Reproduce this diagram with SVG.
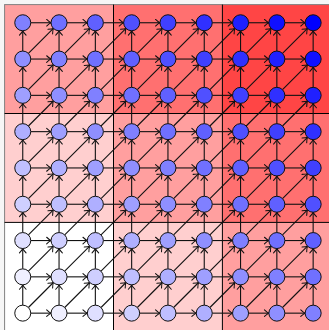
<svg xmlns="http://www.w3.org/2000/svg" width="329" height="330" viewBox="0 0 329 330">
<defs>
<marker id="a" markerUnits="userSpaceOnUse" markerWidth="10" markerHeight="10" refX="0" refY="0" orient="auto" overflow="visible">
<path d="M-4.4,-3.3 Q-1.6,-0.6 0,0 Q-1.6,0.6 -4.4,3.3" fill="none" stroke="#111" stroke-width="1.05" stroke-linecap="round"/>
</marker>
</defs>
<style>
.b0{fill:#ffffff}.b1{fill:#ffcfcf}.b2{fill:#ff9f9f}.b3{fill:#ff7070}.b4{fill:#ff4545}
.sep{stroke:#000;stroke-width:1;fill:none}
.frame{stroke:#808080;stroke-width:1;fill:none}
#connectors path{fill:none;stroke:#111;stroke-width:1.1;marker-end:url(#a)}
circle{stroke:#111;stroke-width:1}
.k0{fill:#ffffff}.k1{fill:#efefff}.k2{fill:#dfdfff}.k3{fill:#cfcfff}.k4{fill:#bfbfff}.k5{fill:#afafff}.k6{fill:#9f9fff}.k7{fill:#8f8fff}.k8{fill:#8080ff}.k9{fill:#7070ff}.k10{fill:#6060ff}.k11{fill:#5050ff}.k12{fill:#4040ff}.k13{fill:#3030ff}.k14{fill:#2020ff}.k15{fill:#1010ff}.k16{fill:#0000ff}
</style>
<rect x="0" y="0" width="329" height="330" fill="#f6f6f6"/>
<g id="blocks">
<rect class="b2" x="4.6" y="4.6" width="108.9" height="108.9"/>
<rect class="b3" x="113.5" y="4.6" width="108.9" height="108.9"/>
<rect class="b4" x="222.4" y="4.6" width="108.9" height="108.9"/>
<rect class="b1" x="4.6" y="113.5" width="108.9" height="108.9"/>
<rect class="b2" x="113.5" y="113.5" width="108.9" height="108.9"/>
<rect class="b3" x="222.4" y="113.5" width="108.9" height="108.9"/>
<rect class="b0" x="4.6" y="222.4" width="108.9" height="108.9"/>
<rect class="b1" x="113.5" y="222.4" width="108.9" height="108.9"/>
<rect class="b2" x="222.4" y="222.4" width="108.9" height="108.9"/>
<rect class="frame" x="4.6" y="4.6" width="326.7" height="326.7"/>
<path class="sep" d="M113.5,4.6V331.3M222.4,4.6V331.3M4.6,113.5H331.3M4.6,222.4H331.3"/>
</g>
<g id="connectors">
<path d="M30.75,22.75H51.05"/><path d="M67.05,22.75H87.35"/><path d="M103.35,22.75H123.65"/><path d="M139.65,22.75H159.95"/><path d="M175.95,22.75H196.25"/><path d="M212.25,22.75H232.55"/><path d="M248.55,22.75H268.85"/><path d="M284.85,22.75H305.15"/>
<path d="M30.75,59.05H51.05"/><path d="M67.05,59.05H87.35"/><path d="M103.35,59.05H123.65"/><path d="M139.65,59.05H159.95"/><path d="M175.95,59.05H196.25"/><path d="M212.25,59.05H232.55"/><path d="M248.55,59.05H268.85"/><path d="M284.85,59.05H305.15"/>
<path d="M30.75,95.35H51.05"/><path d="M67.05,95.35H87.35"/><path d="M103.35,95.35H123.65"/><path d="M139.65,95.35H159.95"/><path d="M175.95,95.35H196.25"/><path d="M212.25,95.35H232.55"/><path d="M248.55,95.35H268.85"/><path d="M284.85,95.35H305.15"/>
<path d="M30.75,131.65H51.05"/><path d="M67.05,131.65H87.35"/><path d="M103.35,131.65H123.65"/><path d="M139.65,131.65H159.95"/><path d="M175.95,131.65H196.25"/><path d="M212.25,131.65H232.55"/><path d="M248.55,131.65H268.85"/><path d="M284.85,131.65H305.15"/>
<path d="M30.75,167.95H51.05"/><path d="M67.05,167.95H87.35"/><path d="M103.35,167.95H123.65"/><path d="M139.65,167.95H159.95"/><path d="M175.95,167.95H196.25"/><path d="M212.25,167.95H232.55"/><path d="M248.55,167.95H268.85"/><path d="M284.85,167.95H305.15"/>
<path d="M30.75,204.25H51.05"/><path d="M67.05,204.25H87.35"/><path d="M103.35,204.25H123.65"/><path d="M139.65,204.25H159.95"/><path d="M175.95,204.25H196.25"/><path d="M212.25,204.25H232.55"/><path d="M248.55,204.25H268.85"/><path d="M284.85,204.25H305.15"/>
<path d="M30.75,240.55H51.05"/><path d="M67.05,240.55H87.35"/><path d="M103.35,240.55H123.65"/><path d="M139.65,240.55H159.95"/><path d="M175.95,240.55H196.25"/><path d="M212.25,240.55H232.55"/><path d="M248.55,240.55H268.85"/><path d="M284.85,240.55H305.15"/>
<path d="M30.75,276.85H51.05"/><path d="M67.05,276.85H87.35"/><path d="M103.35,276.85H123.65"/><path d="M139.65,276.85H159.95"/><path d="M175.95,276.85H196.25"/><path d="M212.25,276.85H232.55"/><path d="M248.55,276.85H268.85"/><path d="M284.85,276.85H305.15"/>
<path d="M30.75,313.15H51.05"/><path d="M67.05,313.15H87.35"/><path d="M103.35,313.15H123.65"/><path d="M139.65,313.15H159.95"/><path d="M175.95,313.15H196.25"/><path d="M212.25,313.15H232.55"/><path d="M248.55,313.15H268.85"/><path d="M284.85,313.15H305.15"/>
<path d="M22.75,51.05V30.75"/><path d="M22.75,87.35V67.05"/><path d="M22.75,123.65V103.35"/><path d="M22.75,159.95V139.65"/><path d="M22.75,196.25V175.95"/><path d="M22.75,232.55V212.25"/><path d="M22.75,268.85V248.55"/><path d="M22.75,305.15V284.85"/>
<path d="M59.05,51.05V30.75"/><path d="M59.05,87.35V67.05"/><path d="M59.05,123.65V103.35"/><path d="M59.05,159.95V139.65"/><path d="M59.05,196.25V175.95"/><path d="M59.05,232.55V212.25"/><path d="M59.05,268.85V248.55"/><path d="M59.05,305.15V284.85"/>
<path d="M95.35,51.05V30.75"/><path d="M95.35,87.35V67.05"/><path d="M95.35,123.65V103.35"/><path d="M95.35,159.95V139.65"/><path d="M95.35,196.25V175.95"/><path d="M95.35,232.55V212.25"/><path d="M95.35,268.85V248.55"/><path d="M95.35,305.15V284.85"/>
<path d="M131.65,51.05V30.75"/><path d="M131.65,87.35V67.05"/><path d="M131.65,123.65V103.35"/><path d="M131.65,159.95V139.65"/><path d="M131.65,196.25V175.95"/><path d="M131.65,232.55V212.25"/><path d="M131.65,268.85V248.55"/><path d="M131.65,305.15V284.85"/>
<path d="M167.95,51.05V30.75"/><path d="M167.95,87.35V67.05"/><path d="M167.95,123.65V103.35"/><path d="M167.95,159.95V139.65"/><path d="M167.95,196.25V175.95"/><path d="M167.95,232.55V212.25"/><path d="M167.95,268.85V248.55"/><path d="M167.95,305.15V284.85"/>
<path d="M204.25,51.05V30.75"/><path d="M204.25,87.35V67.05"/><path d="M204.25,123.65V103.35"/><path d="M204.25,159.95V139.65"/><path d="M204.25,196.25V175.95"/><path d="M204.25,232.55V212.25"/><path d="M204.25,268.85V248.55"/><path d="M204.25,305.15V284.85"/>
<path d="M240.55,51.05V30.75"/><path d="M240.55,87.35V67.05"/><path d="M240.55,123.65V103.35"/><path d="M240.55,159.95V139.65"/><path d="M240.55,196.25V175.95"/><path d="M240.55,232.55V212.25"/><path d="M240.55,268.85V248.55"/><path d="M240.55,305.15V284.85"/>
<path d="M276.85,51.05V30.75"/><path d="M276.85,87.35V67.05"/><path d="M276.85,123.65V103.35"/><path d="M276.85,159.95V139.65"/><path d="M276.85,196.25V175.95"/><path d="M276.85,232.55V212.25"/><path d="M276.85,268.85V248.55"/><path d="M276.85,305.15V284.85"/>
<path d="M313.15,51.05V30.75"/><path d="M313.15,87.35V67.05"/><path d="M313.15,123.65V103.35"/><path d="M313.15,159.95V139.65"/><path d="M313.15,196.25V175.95"/><path d="M313.15,232.55V212.25"/><path d="M313.15,268.85V248.55"/><path d="M313.15,305.15V284.85"/>
<path d="M28.41,53.39L53.39,28.41"/><path d="M64.71,53.39L89.69,28.41"/><path d="M101.01,53.39L125.99,28.41"/><path d="M137.31,53.39L162.29,28.41"/><path d="M173.61,53.39L198.59,28.41"/><path d="M209.91,53.39L234.89,28.41"/><path d="M246.21,53.39L271.19,28.41"/><path d="M282.51,53.39L307.49,28.41"/>
<path d="M28.41,89.69L53.39,64.71"/><path d="M64.71,89.69L89.69,64.71"/><path d="M101.01,89.69L125.99,64.71"/><path d="M137.31,89.69L162.29,64.71"/><path d="M173.61,89.69L198.59,64.71"/><path d="M209.91,89.69L234.89,64.71"/><path d="M246.21,89.69L271.19,64.71"/><path d="M282.51,89.69L307.49,64.71"/>
<path d="M28.41,125.99L53.39,101.01"/><path d="M64.71,125.99L89.69,101.01"/><path d="M101.01,125.99L125.99,101.01"/><path d="M137.31,125.99L162.29,101.01"/><path d="M173.61,125.99L198.59,101.01"/><path d="M209.91,125.99L234.89,101.01"/><path d="M246.21,125.99L271.19,101.01"/><path d="M282.51,125.99L307.49,101.01"/>
<path d="M28.41,162.29L53.39,137.31"/><path d="M64.71,162.29L89.69,137.31"/><path d="M101.01,162.29L125.99,137.31"/><path d="M137.31,162.29L162.29,137.31"/><path d="M173.61,162.29L198.59,137.31"/><path d="M209.91,162.29L234.89,137.31"/><path d="M246.21,162.29L271.19,137.31"/><path d="M282.51,162.29L307.49,137.31"/>
<path d="M28.41,198.59L53.39,173.61"/><path d="M64.71,198.59L89.69,173.61"/><path d="M101.01,198.59L125.99,173.61"/><path d="M137.31,198.59L162.29,173.61"/><path d="M173.61,198.59L198.59,173.61"/><path d="M209.91,198.59L234.89,173.61"/><path d="M246.21,198.59L271.19,173.61"/><path d="M282.51,198.59L307.49,173.61"/>
<path d="M28.41,234.89L53.39,209.91"/><path d="M64.71,234.89L89.69,209.91"/><path d="M101.01,234.89L125.99,209.91"/><path d="M137.31,234.89L162.29,209.91"/><path d="M173.61,234.89L198.59,209.91"/><path d="M209.91,234.89L234.89,209.91"/><path d="M246.21,234.89L271.19,209.91"/><path d="M282.51,234.89L307.49,209.91"/>
<path d="M28.41,271.19L53.39,246.21"/><path d="M64.71,271.19L89.69,246.21"/><path d="M101.01,271.19L125.99,246.21"/><path d="M137.31,271.19L162.29,246.21"/><path d="M173.61,271.19L198.59,246.21"/><path d="M209.91,271.19L234.89,246.21"/><path d="M246.21,271.19L271.19,246.21"/><path d="M282.51,271.19L307.49,246.21"/>
<path d="M28.41,307.49L53.39,282.51"/><path d="M64.71,307.49L89.69,282.51"/><path d="M101.01,307.49L125.99,282.51"/><path d="M137.31,307.49L162.29,282.51"/><path d="M173.61,307.49L198.59,282.51"/><path d="M209.91,307.49L234.89,282.51"/><path d="M246.21,307.49L271.19,282.51"/><path d="M282.51,307.49L307.49,282.51"/>
</g>
<g id="n-0-8"><circle class="k8" cx="22.75" cy="22.75" r="8"/></g>
<g id="n-1-8"><circle class="k9" cx="59.05" cy="22.75" r="8"/></g>
<g id="n-2-8"><circle class="k10" cx="95.35" cy="22.75" r="8"/></g>
<g id="n-3-8"><circle class="k11" cx="131.65" cy="22.75" r="8"/></g>
<g id="n-4-8"><circle class="k12" cx="167.95" cy="22.75" r="8"/></g>
<g id="n-5-8"><circle class="k13" cx="204.25" cy="22.75" r="8"/></g>
<g id="n-6-8"><circle class="k14" cx="240.55" cy="22.75" r="8"/></g>
<g id="n-7-8"><circle class="k15" cx="276.85" cy="22.75" r="8"/></g>
<g id="n-8-8"><circle class="k16" cx="313.15" cy="22.75" r="8"/></g>
<g id="n-0-7"><circle class="k7" cx="22.75" cy="59.05" r="8"/></g>
<g id="n-1-7"><circle class="k8" cx="59.05" cy="59.05" r="8"/></g>
<g id="n-2-7"><circle class="k9" cx="95.35" cy="59.05" r="8"/></g>
<g id="n-3-7"><circle class="k10" cx="131.65" cy="59.05" r="8"/></g>
<g id="n-4-7"><circle class="k11" cx="167.95" cy="59.05" r="8"/></g>
<g id="n-5-7"><circle class="k12" cx="204.25" cy="59.05" r="8"/></g>
<g id="n-6-7"><circle class="k13" cx="240.55" cy="59.05" r="8"/></g>
<g id="n-7-7"><circle class="k14" cx="276.85" cy="59.05" r="8"/></g>
<g id="n-8-7"><circle class="k15" cx="313.15" cy="59.05" r="8"/></g>
<g id="n-0-6"><circle class="k6" cx="22.75" cy="95.35" r="8"/></g>
<g id="n-1-6"><circle class="k7" cx="59.05" cy="95.35" r="8"/></g>
<g id="n-2-6"><circle class="k8" cx="95.35" cy="95.35" r="8"/></g>
<g id="n-3-6"><circle class="k9" cx="131.65" cy="95.35" r="8"/></g>
<g id="n-4-6"><circle class="k10" cx="167.95" cy="95.35" r="8"/></g>
<g id="n-5-6"><circle class="k11" cx="204.25" cy="95.35" r="8"/></g>
<g id="n-6-6"><circle class="k12" cx="240.55" cy="95.35" r="8"/></g>
<g id="n-7-6"><circle class="k13" cx="276.85" cy="95.35" r="8"/></g>
<g id="n-8-6"><circle class="k14" cx="313.15" cy="95.35" r="8"/></g>
<g id="n-0-5"><circle class="k5" cx="22.75" cy="131.65" r="8"/></g>
<g id="n-1-5"><circle class="k6" cx="59.05" cy="131.65" r="8"/></g>
<g id="n-2-5"><circle class="k7" cx="95.35" cy="131.65" r="8"/></g>
<g id="n-3-5"><circle class="k8" cx="131.65" cy="131.65" r="8"/></g>
<g id="n-4-5"><circle class="k9" cx="167.95" cy="131.65" r="8"/></g>
<g id="n-5-5"><circle class="k10" cx="204.25" cy="131.65" r="8"/></g>
<g id="n-6-5"><circle class="k11" cx="240.55" cy="131.65" r="8"/></g>
<g id="n-7-5"><circle class="k12" cx="276.85" cy="131.65" r="8"/></g>
<g id="n-8-5"><circle class="k13" cx="313.15" cy="131.65" r="8"/></g>
<g id="n-0-4"><circle class="k4" cx="22.75" cy="167.95" r="8"/></g>
<g id="n-1-4"><circle class="k5" cx="59.05" cy="167.95" r="8"/></g>
<g id="n-2-4"><circle class="k6" cx="95.35" cy="167.95" r="8"/></g>
<g id="n-3-4"><circle class="k7" cx="131.65" cy="167.95" r="8"/></g>
<g id="n-4-4"><circle class="k8" cx="167.95" cy="167.95" r="8"/></g>
<g id="n-5-4"><circle class="k9" cx="204.25" cy="167.95" r="8"/></g>
<g id="n-6-4"><circle class="k10" cx="240.55" cy="167.95" r="8"/></g>
<g id="n-7-4"><circle class="k11" cx="276.85" cy="167.95" r="8"/></g>
<g id="n-8-4"><circle class="k12" cx="313.15" cy="167.95" r="8"/></g>
<g id="n-0-3"><circle class="k3" cx="22.75" cy="204.25" r="8"/></g>
<g id="n-1-3"><circle class="k4" cx="59.05" cy="204.25" r="8"/></g>
<g id="n-2-3"><circle class="k5" cx="95.35" cy="204.25" r="8"/></g>
<g id="n-3-3"><circle class="k6" cx="131.65" cy="204.25" r="8"/></g>
<g id="n-4-3"><circle class="k7" cx="167.95" cy="204.25" r="8"/></g>
<g id="n-5-3"><circle class="k8" cx="204.25" cy="204.25" r="8"/></g>
<g id="n-6-3"><circle class="k9" cx="240.55" cy="204.25" r="8"/></g>
<g id="n-7-3"><circle class="k10" cx="276.85" cy="204.25" r="8"/></g>
<g id="n-8-3"><circle class="k11" cx="313.15" cy="204.25" r="8"/></g>
<g id="n-0-2"><circle class="k2" cx="22.75" cy="240.55" r="8"/></g>
<g id="n-1-2"><circle class="k3" cx="59.05" cy="240.55" r="8"/></g>
<g id="n-2-2"><circle class="k4" cx="95.35" cy="240.55" r="8"/></g>
<g id="n-3-2"><circle class="k5" cx="131.65" cy="240.55" r="8"/></g>
<g id="n-4-2"><circle class="k6" cx="167.95" cy="240.55" r="8"/></g>
<g id="n-5-2"><circle class="k7" cx="204.25" cy="240.55" r="8"/></g>
<g id="n-6-2"><circle class="k8" cx="240.55" cy="240.55" r="8"/></g>
<g id="n-7-2"><circle class="k9" cx="276.85" cy="240.55" r="8"/></g>
<g id="n-8-2"><circle class="k10" cx="313.15" cy="240.55" r="8"/></g>
<g id="n-0-1"><circle class="k1" cx="22.75" cy="276.85" r="8"/></g>
<g id="n-1-1"><circle class="k2" cx="59.05" cy="276.85" r="8"/></g>
<g id="n-2-1"><circle class="k3" cx="95.35" cy="276.85" r="8"/></g>
<g id="n-3-1"><circle class="k4" cx="131.65" cy="276.85" r="8"/></g>
<g id="n-4-1"><circle class="k5" cx="167.95" cy="276.85" r="8"/></g>
<g id="n-5-1"><circle class="k6" cx="204.25" cy="276.85" r="8"/></g>
<g id="n-6-1"><circle class="k7" cx="240.55" cy="276.85" r="8"/></g>
<g id="n-7-1"><circle class="k8" cx="276.85" cy="276.85" r="8"/></g>
<g id="n-8-1"><circle class="k9" cx="313.15" cy="276.85" r="8"/></g>
<g id="n-0-0"><circle class="k0" cx="22.75" cy="313.15" r="8"/></g>
<g id="n-1-0"><circle class="k1" cx="59.05" cy="313.15" r="8"/></g>
<g id="n-2-0"><circle class="k2" cx="95.35" cy="313.15" r="8"/></g>
<g id="n-3-0"><circle class="k3" cx="131.65" cy="313.15" r="8"/></g>
<g id="n-4-0"><circle class="k4" cx="167.95" cy="313.15" r="8"/></g>
<g id="n-5-0"><circle class="k5" cx="204.25" cy="313.15" r="8"/></g>
<g id="n-6-0"><circle class="k6" cx="240.55" cy="313.15" r="8"/></g>
<g id="n-7-0"><circle class="k7" cx="276.85" cy="313.15" r="8"/></g>
<g id="n-8-0"><circle class="k8" cx="313.15" cy="313.15" r="8"/></g>
</svg>
